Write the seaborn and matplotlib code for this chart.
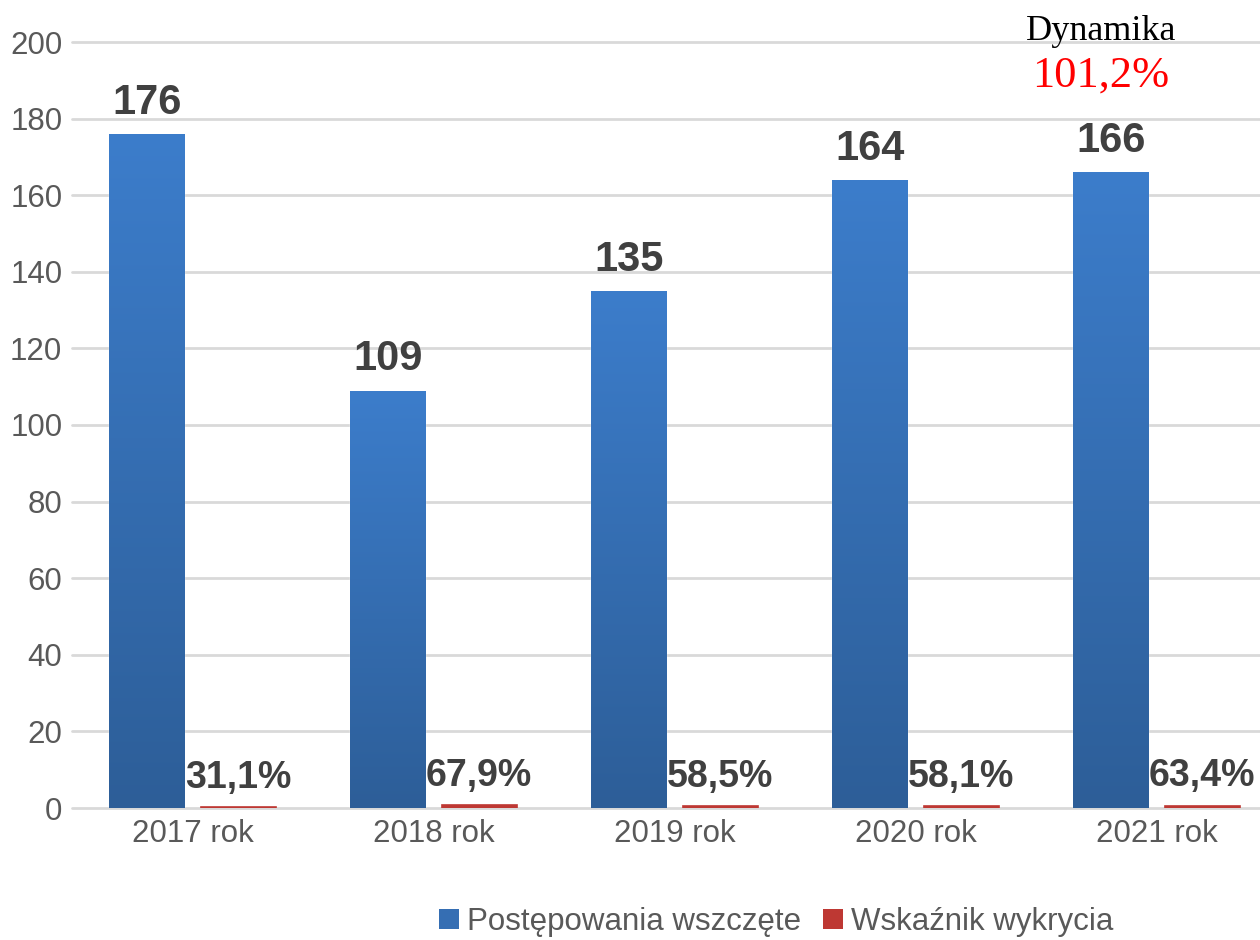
import numpy as np
import pandas as pd
import matplotlib
matplotlib.use("Agg")
import matplotlib.pyplot as plt
from matplotlib.colors import LinearSegmentedColormap
from matplotlib.patches import Patch
import seaborn as sns

# ---- data ----
lata = ["2017 rok", "2018 rok", "2019 rok", "2020 rok", "2021 rok"]
postepowania = [176, 109, 135, 164, 166]
wskaznik = [0.311, 0.679, 0.585, 0.581, 0.634]
series_names = ["Postępowania wszczęte", "Wskaźnik wykrycia"]
dynamika_label = "Dynamika"
dynamika_value = "101,2%"
y_ticks = [0, 20, 40, 60, 80, 100, 120, 140, 160, 180, 200]

df = pd.DataFrame({
    "rok": lata * 2,
    "seria": [series_names[0]] * len(lata) + [series_names[1]] * len(lata),
    "wartosc": postepowania + wskaznik,
})

sns.set_theme(style="white")
plt.rcParams["font.family"] = ["Liberation Sans", "DejaVu Sans"]

BLUE_TOP = "#3C7DCB"
BLUE_BOT = "#2D5E98"
BLUE_MID = "#356EB3"
RED = "#BE3833"
TEXT_GRAY = "#595959"
LABEL_DARK = "#404040"
GRID = "#D9D9D9"

fig = plt.figure(figsize=(12.6, 9.4), dpi=100)
ax = fig.add_axes([72 / 1260, (940 - 808) / 940, 1 - 72 / 1260, (808 - 42) / 940])

sns.barplot(data=df, x="rok", y="wartosc", hue="seria",
            palette=[BLUE_MID, RED], width=0.76, gap=0.18,
            legend=False, ax=ax, saturation=1)

ax.set_ylim(0, 200)
xl = (-0.5, 4.43)
ax.set_xlim(*xl)
ax.set_yticks(y_ticks)
ax.set_xlabel("")
ax.set_ylabel("")
for s in ax.spines.values():
    s.set_visible(False)
ax.yaxis.grid(True, color=GRID, linewidth=2)
ax.set_axisbelow(True)
for gl in ax.get_ygridlines():
    gl.set_clip_on(False)
ax.tick_params(axis="y", labelsize=22.5, labelcolor=TEXT_GRAY, length=0, pad=7)
ax.tick_params(axis="x", labelsize=22.5, labelcolor=TEXT_GRAY, length=0, pad=8)

# gradient on blue bars
cmap = LinearSegmentedColormap.from_list("bg", [BLUE_BOT, BLUE_TOP])
grad = np.linspace(0, 1, 256).reshape(-1, 1)
blue_bars = ax.containers[0]
red_bars = ax.containers[1]
for bar in blue_bars:
    x, w, h = bar.get_x(), bar.get_width(), bar.get_height()
    im = ax.imshow(grad, extent=[x, x + w, 0, h], aspect="auto", cmap=cmap,
                   origin="lower", zorder=bar.get_zorder() + 0.1)
    im.set_clip_path(bar)
for bar in red_bars:
    bar.set_edgecolor(RED)
    bar.set_linewidth(1.2)
    bar.set_zorder(3)
ax.set_xlim(*xl)
ax.set_ylim(0, 200)

ax.bar_label(blue_bars, labels=[str(v) for v in postepowania], padding=8,
             fontsize=30, fontweight="bold", color=LABEL_DARK)
ax.bar_label(red_bars, labels=[f"{v*100:.1f}%".replace(".", ",") for v in wskaznik],
             padding=8, fontsize=27, fontweight="bold", color=LABEL_DARK)

handles = [Patch(facecolor=BLUE_MID, edgecolor="none"), Patch(facecolor=RED, edgecolor="none")]
leg = fig.legend(handles, series_names, loc="center", bbox_to_anchor=(776 / 1260, 1 - 922 / 940),
                 ncol=2, frameon=False, fontsize=22.5, handlelength=0.65, handleheight=0.65,
                 handletextpad=0.25, columnspacing=0.7)
for t in leg.get_texts():
    t.set_color(TEXT_GRAY)

fig.text(1101 / 1260, 1 - 40 / 940, dynamika_label, ha="center", va="baseline",
         family=["Liberation Serif", "DejaVu Serif"], fontsize=26, color="black")
fig.text(1101 / 1260, 1 - 87 / 940, dynamika_value, ha="center", va="baseline",
         family=["Liberation Serif", "DejaVu Serif"], fontsize=32, color="red")

fig.savefig("out.png", dpi=100)
